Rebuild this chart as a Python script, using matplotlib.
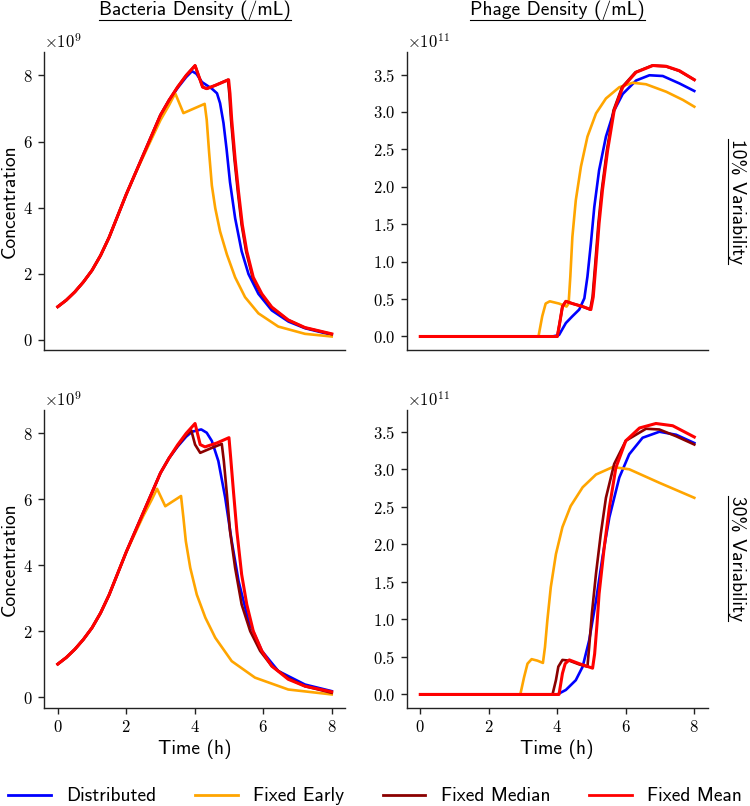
import matplotlib
matplotlib.use("Agg")
import matplotlib.pyplot as plt
from matplotlib.lines import Line2D
import numpy as np

# ---------------- data ----------------
series_names = ["Distributed", "Fixed Early", "Fixed Median", "Fixed Mean"]
series_colors = ["#0000ff", "#ffa500", "#8b0000", "#ff0000"]
col_titles = ["Bacteria Density (/mL)", "Phage Density (/mL)"]
row_titles = ["10% Variability", "30% Variability"]
y_label = "Concentration"
x_label = "Time (h)"
bact_scale = 1e9
phage_scale = 1e11

# ---- 10% variability, bacteria (x1e9) ----
b10_dist_t = [0, 0.25, 0.5, 0.75, 1.0, 1.25, 1.5, 1.75, 2.0, 2.25, 2.5, 2.75, 3.0, 3.25, 3.5, 3.75, 3.92,
              4.05, 4.21, 4.5, 4.65, 4.74, 4.84, 4.93, 5.03, 5.18, 5.37, 5.57, 5.86, 6.25, 6.74, 7.22, 8.0]
b10_dist_v = [1.0, 1.2, 1.45, 1.75, 2.1, 2.55, 3.1, 3.75, 4.4, 5.0, 5.6, 6.2, 6.8, 7.25, 7.62, 7.95, 8.13,
              8.05, 7.8, 7.6, 7.46, 7.16, 6.56, 5.77, 4.77, 3.68, 2.68, 1.99, 1.39, 0.89, 0.55, 0.35, 0.15]
b10_early_t = [0, 0.25, 0.5, 0.75, 1.0, 1.25, 1.5, 1.75, 2.0, 2.25, 2.5, 2.75, 3.0, 3.25, 3.43, 3.67,
               4.29, 4.35, 4.42, 4.5, 4.6, 4.74, 4.94, 5.18, 5.47, 5.86, 6.44, 7.22, 8.0]
b10_early_v = [1.0, 1.2, 1.45, 1.75, 2.1, 2.55, 3.1, 3.75, 4.4, 5.0, 5.55, 6.1, 6.65, 7.1, 7.46, 6.86,
               7.14, 6.66, 5.67, 4.67, 3.98, 3.28, 2.58, 1.89, 1.29, 0.8, 0.4, 0.18, 0.1]
b10_median_t = [0, 0.25, 0.5, 0.75, 1.0, 1.25, 1.5, 1.75, 2.0, 2.25, 2.5, 2.75, 3.0, 3.25, 3.5, 3.75, 4.01,
                4.23, 4.35, 4.6, 4.97, 5.01, 5.06, 5.16, 5.26, 5.37, 5.5, 5.69, 5.94, 6.23, 6.72, 7.2, 8.0]
b10_median_v = [1.0, 1.2, 1.45, 1.75, 2.1, 2.55, 3.1, 3.75, 4.4, 5.0, 5.6, 6.2, 6.8, 7.25, 7.65, 8.0, 8.3,
                7.65, 7.6, 7.7, 7.87, 7.45, 6.66, 5.47, 4.47, 3.48, 2.68, 1.89, 1.39, 0.99, 0.6, 0.37, 0.17]
b10_mean_t = [0, 0.25, 0.5, 0.75, 1.0, 1.25, 1.5, 1.75, 2.0, 2.25, 2.5, 2.75, 3.0, 3.25, 3.5, 3.75, 4.01,
              4.23, 4.35, 4.6, 4.99, 5.03, 5.08, 5.18, 5.28, 5.39, 5.52, 5.71, 5.96, 6.25, 6.73, 7.22, 8.0]
b10_mean_v = [1.0, 1.2, 1.45, 1.75, 2.1, 2.55, 3.1, 3.75, 4.4, 5.0, 5.6, 6.2, 6.8, 7.25, 7.65, 8.0, 8.3,
              7.65, 7.6, 7.7, 7.87, 7.45, 6.66, 5.47, 4.47, 3.48, 2.68, 1.89, 1.39, 0.99, 0.6, 0.37, 0.18]

# ---- 10% variability, phage (x1e11) ----
p10_dist_t = [0, 3.86, 4.05, 4.25, 4.44, 4.64, 4.79, 4.88, 4.98, 5.08, 5.22, 5.42, 5.66, 5.91, 6.3, 6.69,
              7.08, 7.57, 8.0]
p10_dist_v = [0, 0, 0.02, 0.18, 0.27, 0.36, 0.51, 0.8, 1.24, 1.73, 2.22, 2.67, 3.02, 3.24, 3.42, 3.49,
              3.48, 3.38, 3.28]
p10_early_t = [0, 3.45, 3.56, 3.66, 3.78, 4.05, 4.27, 4.33, 4.38, 4.44, 4.54, 4.69, 4.88, 5.13, 5.42,
               5.81, 6.2, 6.59, 7.18, 7.67, 8.0]
p10_early_v = [0, 0, 0.27, 0.44, 0.47, 0.44, 0.4, 0.44, 0.8, 1.33, 1.82, 2.27, 2.67, 2.98, 3.18,
               3.33, 3.39, 3.37, 3.27, 3.16, 3.07]
p10_median_t = [0, 4.0, 4.07, 4.15, 4.25, 4.44, 4.74, 4.96, 5.03, 5.11, 5.2, 5.3, 5.45, 5.64, 5.89, 6.28,
                6.77, 7.16, 7.55, 8.0]
p10_median_v = [0, 0, 0.18, 0.4, 0.47, 0.44, 0.4, 0.36, 0.53, 0.98, 1.51, 1.96, 2.49, 3.02, 3.33, 3.53,
                3.62, 3.61, 3.55, 3.43]
p10_mean_t = [0, 4.0, 4.07, 4.15, 4.25, 4.44, 4.74, 4.98, 5.05, 5.13, 5.22, 5.32, 5.47, 5.66, 5.91, 6.3,
              6.79, 7.18, 7.57, 8.0]
p10_mean_v = [0, 0, 0.18, 0.4, 0.47, 0.44, 0.4, 0.36, 0.53, 0.98, 1.51, 1.96, 2.49, 3.02, 3.33, 3.53,
              3.62, 3.61, 3.55, 3.43]

# ---- 30% variability, bacteria (x1e9) ----
b30_dist_t = [0, 0.25, 0.5, 0.75, 1.0, 1.25, 1.5, 1.75, 2.0, 2.25, 2.5, 2.75, 3.0, 3.25, 3.5, 3.75, 3.92,
              4.19, 4.35, 4.5, 4.69, 4.89, 5.08, 5.28, 5.57, 5.96, 6.44, 7.22, 8.0]
b30_dist_v = [1.0, 1.2, 1.45, 1.75, 2.1, 2.55, 3.1, 3.75, 4.4, 5.0, 5.6, 6.2, 6.8, 7.25, 7.6, 7.9, 8.05,
              8.12, 8.02, 7.77, 7.16, 6.05, 4.73, 3.52, 2.31, 1.4, 0.79, 0.38, 0.18]
b30_early_t = [0, 0.25, 0.5, 0.75, 1.0, 1.25, 1.5, 1.75, 2.0, 2.25, 2.5, 2.75, 2.9, 3.14, 3.6, 3.67, 3.74,
               3.87, 4.06, 4.31, 4.6, 5.08, 5.76, 6.73, 8.0]
b30_early_v = [1.0, 1.2, 1.45, 1.75, 2.1, 2.55, 3.1, 3.75, 4.4, 4.95, 5.5, 6.0, 6.32, 5.79, 6.1, 5.44, 4.73,
               3.92, 3.11, 2.41, 1.8, 1.09, 0.59, 0.23, 0.08]
b30_median_t = [0, 0.25, 0.5, 0.75, 1.0, 1.25, 1.5, 1.75, 2.0, 2.25, 2.5, 2.75, 3.0, 3.25, 3.5, 3.75, 3.9,
                4.01, 4.16, 4.5, 4.79, 4.85, 4.94, 5.03, 5.18, 5.37, 5.62, 5.91, 6.25, 6.73, 7.22, 8.0]
b30_median_v = [1.0, 1.2, 1.45, 1.75, 2.1, 2.55, 3.1, 3.75, 4.4, 5.0, 5.6, 6.2, 6.8, 7.25, 7.62, 7.95, 8.09,
                7.66, 7.41, 7.56, 7.68, 7.16, 6.15, 5.04, 3.92, 2.81, 2.0, 1.4, 0.94, 0.57, 0.33, 0.13]
b30_mean_t = [0, 0.25, 0.5, 0.75, 1.0, 1.25, 1.5, 1.75, 2.0, 2.25, 2.5, 2.75, 3.0, 3.25, 3.5, 3.75, 4.01,
              4.16, 4.3, 4.65, 5.0, 5.05, 5.13, 5.23, 5.37, 5.52, 5.71, 5.96, 6.25, 6.73, 7.22, 8.0]
b30_mean_v = [1.0, 1.2, 1.45, 1.75, 2.1, 2.55, 3.1, 3.75, 4.4, 5.0, 5.6, 6.2, 6.8, 7.25, 7.65, 8.0, 8.3,
              7.66, 7.59, 7.71, 7.87, 7.26, 6.25, 5.04, 3.72, 2.81, 2.0, 1.4, 0.94, 0.54, 0.33, 0.16]

# ---- 30% variability, phage (x1e11) ----
p30_dist_t = [0, 4.0, 4.25, 4.54, 4.74, 4.93, 5.13, 5.32, 5.52, 5.81, 6.1, 6.49, 6.98, 7.47, 8.0]
p30_dist_v = [0, 0, 0.06, 0.19, 0.37, 0.72, 1.25, 1.83, 2.36, 2.89, 3.2, 3.42, 3.5, 3.46, 3.35]
p30_early_t = [0, 2.92, 3.03, 3.13, 3.25, 3.42, 3.58, 3.64, 3.71, 3.81, 3.96, 4.15, 4.39, 4.74, 5.13,
               5.62, 6.1, 6.98, 8.0]
p30_early_v = [0, 0, 0.23, 0.41, 0.47, 0.45, 0.42, 0.63, 0.99, 1.43, 1.87, 2.23, 2.51, 2.76, 2.93,
               3.03, 3.0, 2.82, 2.62]
p30_median_t = [0, 3.86, 3.96, 4.03, 4.15, 4.35, 4.64, 4.88, 4.93, 5.01, 5.13, 5.27, 5.42, 5.66, 6.0,
                6.59, 6.98, 7.47, 8.0]
p30_median_v = [0, 0, 0.19, 0.37, 0.46, 0.45, 0.4, 0.37, 0.63, 1.08, 1.61, 2.14, 2.62, 3.07, 3.38,
                3.54, 3.53, 3.44, 3.33]
p30_mean_t = [0, 4.05, 4.15, 4.23, 4.35, 4.64, 5.03, 5.09, 5.16, 5.22, 5.37, 5.52, 5.71, 6.0, 6.4,
              6.88, 7.37, 8.0]
p30_mean_v = [0, 0, 0.28, 0.41, 0.46, 0.41, 0.35, 0.54, 0.94, 1.34, 1.96, 2.49, 3.02, 3.38, 3.55,
              3.61, 3.58, 3.43]

# ---------------- figure ----------------
plt.rcParams["font.family"] = "cmr10"
plt.rcParams["mathtext.fontset"] = "cm"
plt.rcParams["axes.formatter.use_mathtext"] = True
plt.rcParams["axes.unicode_minus"] = False

SANS = "cmss10"
FS = 14
fig, axes = plt.subplots(2, 2, figsize=(7.5, 8.06), dpi=100, sharex=True)
fig.subplots_adjust(left=0.0587, right=0.944, bottom=0.1216, top=0.9355, wspace=0.203, hspace=0.201)

panels = [
    [(b10_dist_t, b10_dist_v), (b10_early_t, b10_early_v), (b10_median_t, b10_median_v), (b10_mean_t, b10_mean_v)],
    [(p10_dist_t, p10_dist_v), (p10_early_t, p10_early_v), (p10_median_t, p10_median_v), (p10_mean_t, p10_mean_v)],
    [(b30_dist_t, b30_dist_v), (b30_early_t, b30_early_v), (b30_median_t, b30_median_v), (b30_mean_t, b30_mean_v)],
    [(p30_dist_t, p30_dist_v), (p30_early_t, p30_early_v), (p30_median_t, p30_median_v), (p30_mean_t, p30_mean_v)],
]
scales = [bact_scale, phage_scale, bact_scale, phage_scale]
widths = [1.9, 1.9, 1.9, 2.2]

for idx, ax in enumerate(axes.flat):
    for k, (t, v) in enumerate(panels[idx]):
        ax.plot(t, np.asarray(v) * scales[idx], color=series_colors[k], lw=widths[k],
                label=series_names[k])
    for s in ["top", "right"]:
        ax.spines[s].set_visible(False)
    for s in ["left", "bottom"]:
        ax.spines[s].set_color("#222222")
        ax.spines[s].set_linewidth(1.0)
    ax.tick_params(labelsize=12, length=4.5, width=1.0, color="#222222")
    ax.yaxis.get_offset_text().set_fontsize(12)
    ax.set_xticks([0, 2, 4, 6, 8])

for ax in axes[0]:
    ax.tick_params(axis="x", bottom=False, labelbottom=False)
for ax in axes[1]:
    ax.set_xlabel(x_label, family=SANS, fontsize=FS, labelpad=3)
for ax in axes[:, 0]:
    ax.set_ylabel(y_label, family=SANS, fontsize=FS, labelpad=3)

# column and row titles
col_txt = []
for j, ax in enumerate(axes[0]):
    bb = ax.get_position()
    col_txt.append(fig.text((bb.x0 + bb.x1) / 2, 1 - 15 / 806, col_titles[j], family=SANS,
                            fontsize=FS, ha="center", va="baseline"))
row_txt = []
for i, ax in enumerate(axes[:, 1]):
    bb = ax.get_position()
    row_txt.append(fig.text(737 / 750, (bb.y0 + bb.y1) / 2, row_titles[i], family=SANS,
                            fontsize=FS, ha="center", va="center", rotation=270))

handles = [Line2D([0], [0], color=c, lw=2) for c in series_colors]
fig.legend(handles, series_names, loc="lower left", ncol=4, mode="expand",
           bbox_to_anchor=(0.0, -0.009, 1.0, 0.03), frameon=False,
           prop={"family": SANS, "size": FS}, handlelength=2.2, handletextpad=0.8,
           borderaxespad=0.0)

# underlines (as in the LaTeX \underline of the reference)
fig.canvas.draw()
renderer = fig.canvas.get_renderer()
W, H = fig.bbox.width, fig.bbox.height
for t in col_txt:
    bb = t.get_window_extent(renderer)
    y = (bb.y0 + 0.5) / H
    fig.add_artist(Line2D([bb.x0 / W, bb.x1 / W], [y, y], color="black", lw=0.8,
                          transform=fig.transFigure))
for t in row_txt:
    bb = t.get_window_extent(renderer)
    x = (bb.x0 + 0.5) / W
    fig.add_artist(Line2D([x, x], [bb.y0 / H, bb.y1 / H], color="black", lw=0.8,
                          transform=fig.transFigure))

fig.savefig("out.png", dpi=100)
